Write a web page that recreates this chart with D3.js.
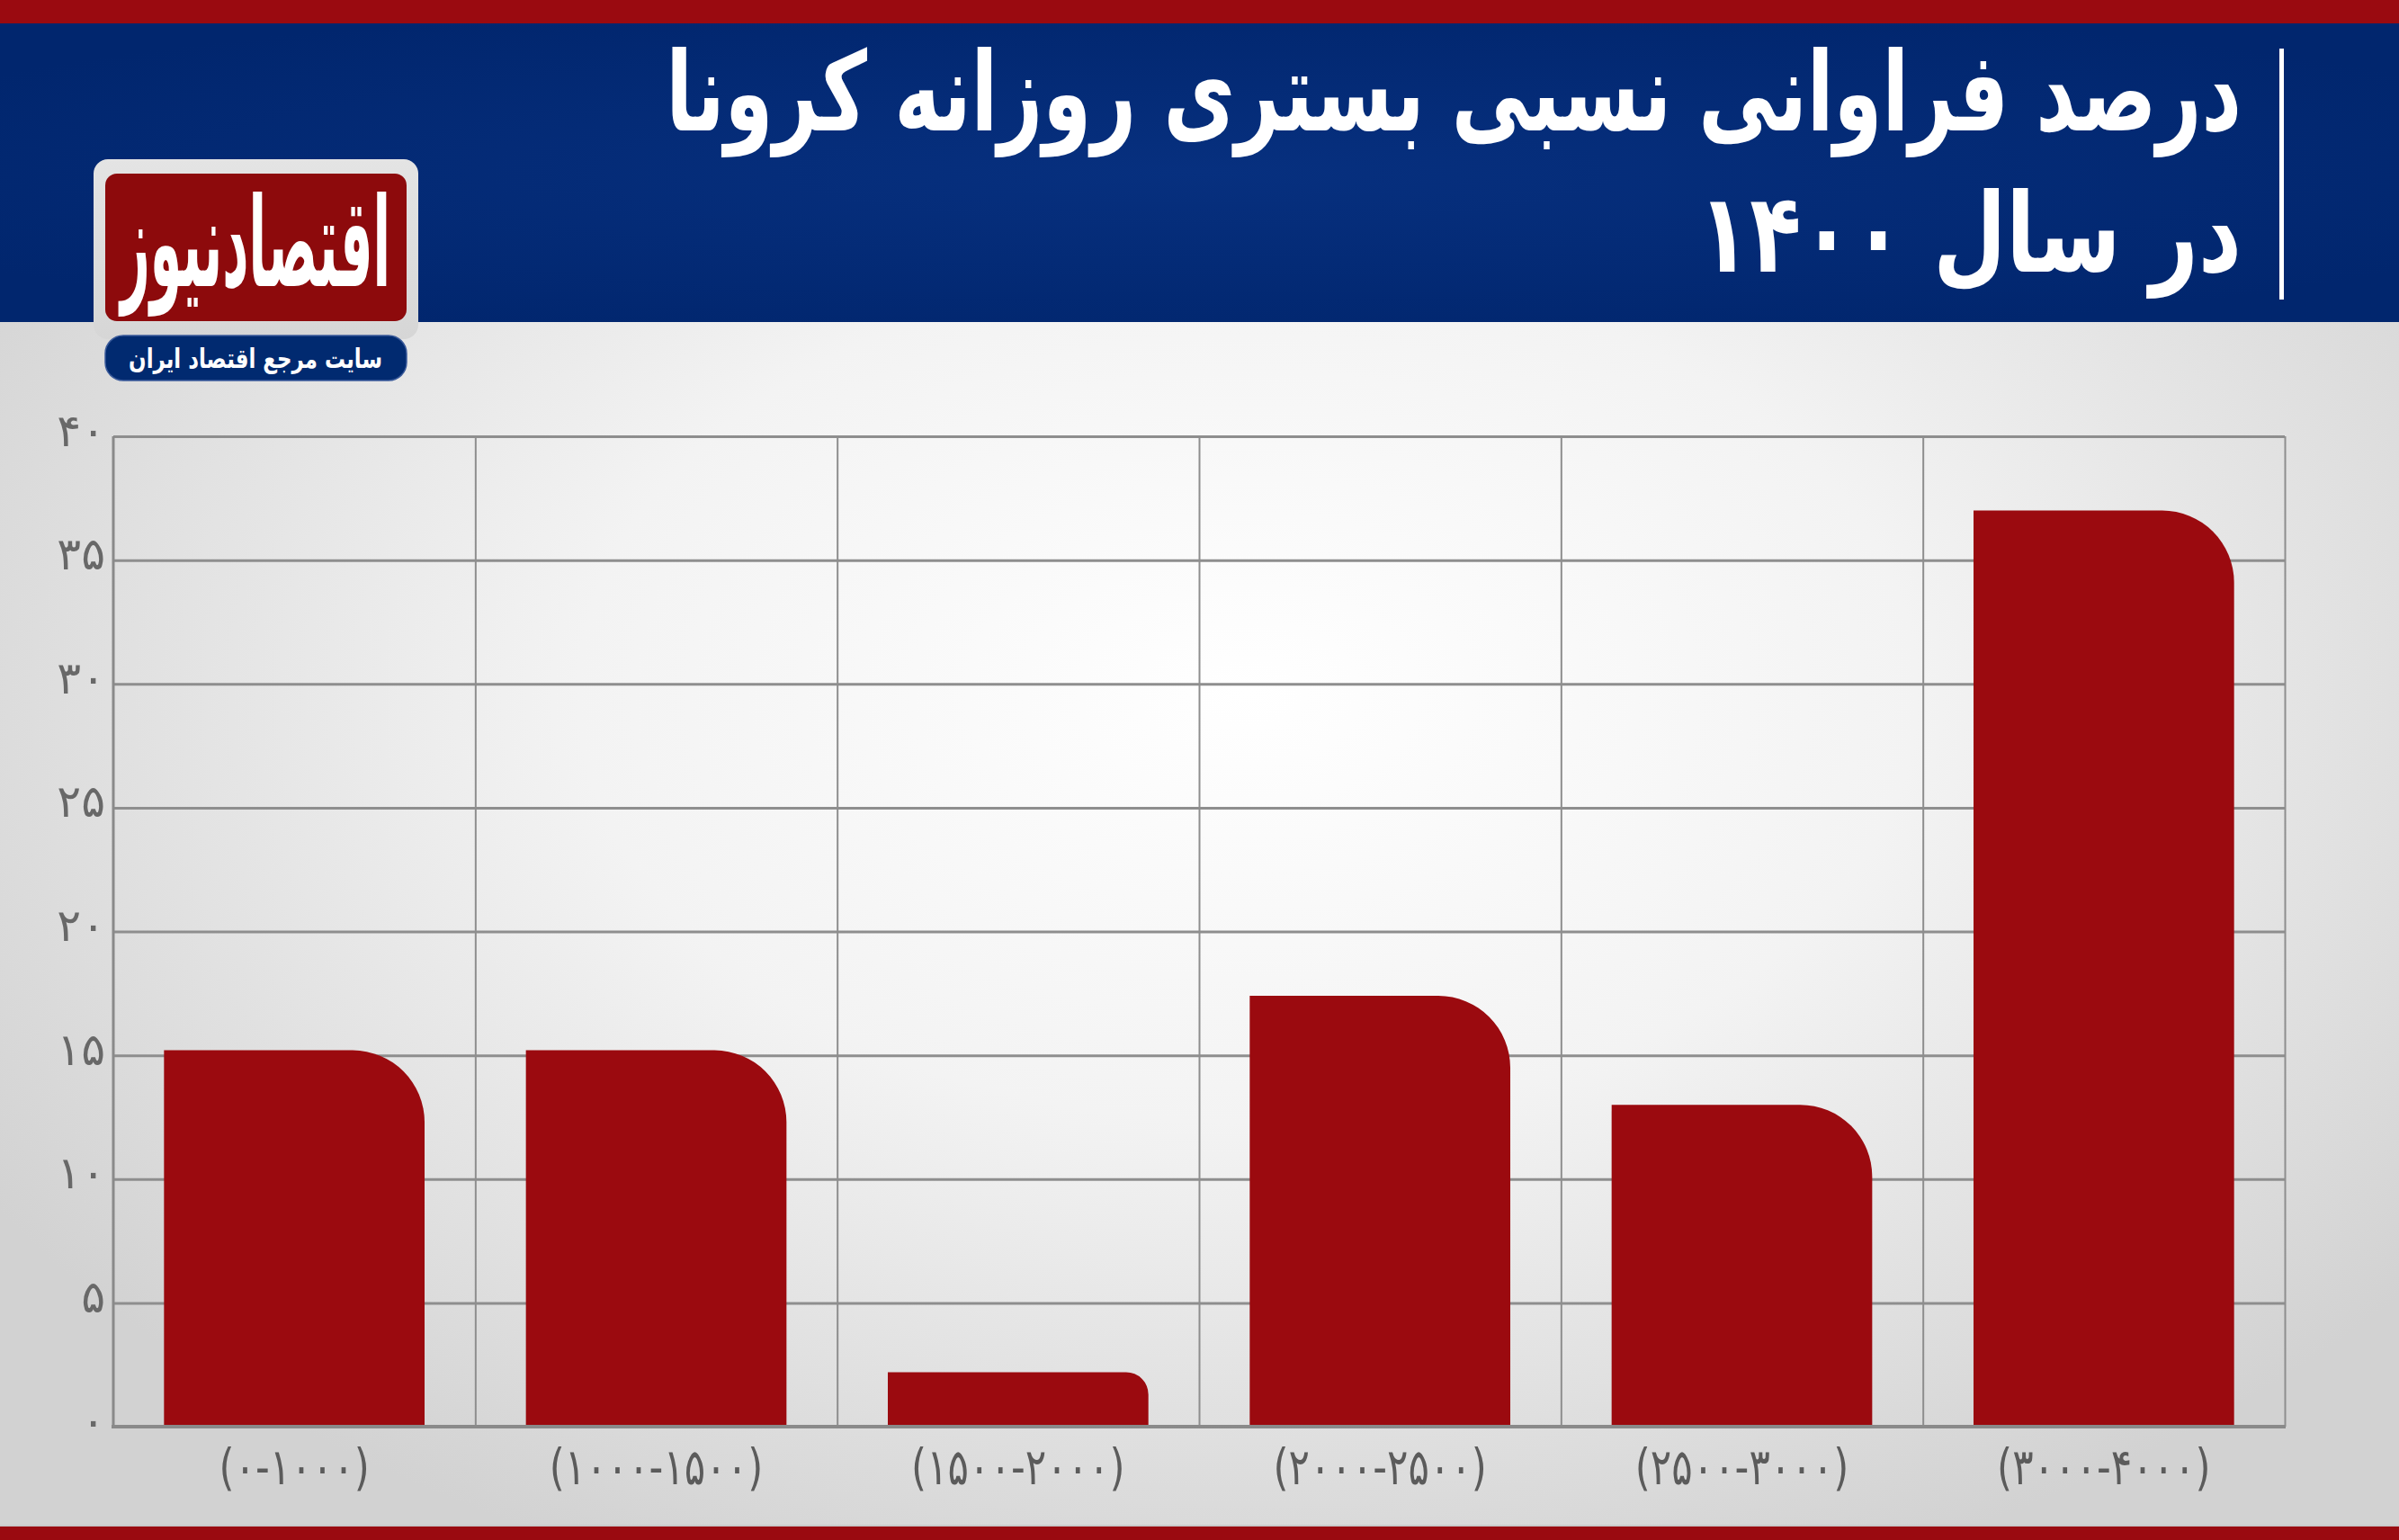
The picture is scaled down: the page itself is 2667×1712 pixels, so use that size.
<!DOCTYPE html>
<html><head><meta charset="utf-8">
<script src="https://cdn.jsdelivr.net/npm/d3@7"></script>
<style>html,body{margin:0;padding:0;background:#fff;} svg{display:block;}</style>
</head><body>
<svg id="chart" width="2667" height="1712"></svg>
<script>
// ---- data ----
const categories = ["(۰-۱۰۰۰)", "(۱۰۰۰-۱۵۰۰)", "(۱۵۰۰-۲۰۰۰)", "(۲۰۰۰-۲۵۰۰)", "(۲۵۰۰-۳۰۰۰)", "(۳۰۰۰-۴۰۰۰)"];
const values = [15.2, 15.2, 2.2, 17.4, 13.0, 37.0];
const yTicks = [0, 5, 10, 15, 20, 25, 30, 35, 40];
const titleLines = ["درصد فراوانی نسبی بستری روزانه کرونا", "در سال ۱۴۰۰"];
const logoText = "اقتصادنیوز";
const logoTagline = "سایت مرجع اقتصاد ایران";

(function () {
const toFa = v => String(v).replace(/\d/g, d => "۰۱۲۳۴۵۶۷۸۹"[+d]);

const W = 2667, H = 1712;
const FONT = "'DejaVu Sans', 'Noto Sans', sans-serif";
const svg = d3.select("#chart");
const defs = svg.append("defs");

// background gradient
const bg = defs.append("radialGradient").attr("id", "bgGrad")
  .attr("cx", "52%").attr("cy", "45%").attr("r", "62%");
bg.append("stop").attr("offset", "0%").attr("stop-color", "#ffffff");
bg.append("stop").attr("offset", "45%").attr("stop-color", "#f3f3f3");
bg.append("stop").attr("offset", "100%").attr("stop-color", "#d2d2d2");
svg.append("rect").attr("width", W).attr("height", H).attr("fill", "url(#bgGrad)");

// blue header
const bl = defs.append("radialGradient").attr("id", "blueGrad")
  .attr("cx", "50%").attr("cy", "50%").attr("r", "60%");
bl.append("stop").attr("offset", "0%").attr("stop-color", "#07307f");
bl.append("stop").attr("offset", "100%").attr("stop-color", "#01266e");
svg.append("rect").attr("x", 0).attr("y", 26).attr("width", W).attr("height", 332).attr("fill", "url(#blueGrad)");
// red bands
svg.append("rect").attr("x", 0).attr("y", 0).attr("width", W).attr("height", 26).attr("fill", "#9a0a10");
svg.append("rect").attr("x", 0).attr("y", 1695).attr("width", W).attr("height", 2).attr("fill", "#c9c9c9");
svg.append("rect").attr("x", 0).attr("y", 1697).attr("width", W).attr("height", 15).attr("fill", "#9a0a10");

// title
svg.append("rect").attr("x", 2534).attr("y", 54).attr("width", 5).attr("height", 279).attr("fill", "#ffffff");
const titleTargets = [{w: 1752, y: 145}, {w: 604, y: 302}];
titleLines.forEach((t, i) => {
  const g = svg.append("g");
  const txt = g.append("text").text(t)
    .attr("font-family", FONT).attr("font-weight", "bold").attr("font-size", 122)
    .attr("fill", "#ffffff").attr("text-anchor", "end");
  const len = txt.node().getComputedTextLength();
  const sx = titleTargets[i].w / len;
  g.attr("transform", `translate(2492,${titleTargets[i].y}) scale(${sx},1)`);
});

// logo
const lg = defs.append("linearGradient").attr("id", "logoGray").attr("x1", 0).attr("y1", 0).attr("x2", 0).attr("y2", 1);
lg.append("stop").attr("offset", "0%").attr("stop-color", "#e4e4e4");
lg.append("stop").attr("offset", "100%").attr("stop-color", "#d6d6d6");
svg.append("rect").attr("x", 104).attr("y", 177).attr("width", 361).attr("height", 200).attr("rx", 16).attr("fill", "url(#logoGray)");
svg.append("rect").attr("x", 117).attr("y", 193).attr("width", 335).attr("height", 164).attr("rx", 13).attr("fill", "#8d0a0c");
{
  const g = svg.append("g");
  const txt = g.append("text").text(logoText)
    .attr("font-family", FONT).attr("font-weight", "bold").attr("font-size", 120)
    .attr("fill", "#ffffff").attr("text-anchor", "middle");
  const len = txt.node().getComputedTextLength();
  g.attr("transform", `translate(284,318) scale(${300 / len},1.15)`);
}
svg.append("rect").attr("x", 117).attr("y", 373).attr("width", 335).attr("height", 50).attr("rx", 20)
  .attr("fill", "#012a70").attr("stroke", "#3a5a9a").attr("stroke-width", 1.5);
{
  const g = svg.append("g");
  const txt = g.append("text").text(logoTagline)
    .attr("font-family", FONT).attr("font-weight", "bold").attr("font-size", 30)
    .attr("fill", "#ffffff").attr("text-anchor", "middle");
  const len = txt.node().getComputedTextLength();
  g.attr("transform", `translate(284,409) scale(${282 / len},1)`);
}

// ---- chart ----
const pL = 126, pR = 2540, pT = 485, pB = 1586;
const x = d3.scaleBand().domain(categories).range([pL, pR]).paddingInner(0.28).paddingOuter(0.14);
const y = d3.scaleLinear().domain([0, 40]).range([pB, pT]);
const xb = d3.scaleLinear().domain([0, categories.length]).range([pL, pR]);

const grid = svg.append("g");
grid.append("g").attr("transform", `translate(${pL},0)`)
  .call(d3.axisLeft(y).tickValues(yTicks).tickSize(-(pR - pL)).tickFormat(""))
  .call(g => g.select(".domain").remove())
  .call(g => g.selectAll("line").attr("stroke", "#8e8e8e").attr("stroke-width", 3));
grid.append("g").attr("transform", `translate(0,${pT})`)
  .call(d3.axisTop(xb).tickValues(d3.range(1, categories.length + 1)).tickSize(-(pB - pT)).tickFormat(""))
  .call(g => g.select(".domain").remove())
  .call(g => g.selectAll("line").attr("stroke", "#8e8e8e").attr("stroke-width", 2));

// bars
const barPath = (d, i) => {
  const x0 = x(categories[i]), w = x.bandwidth();
  const yt = y(d), h = pB - yt;
  const r = Math.min(80, h * 0.41);
  return `M${x0},${pB}L${x0},${yt}L${x0 + w - r},${yt}A${r},${r} 0 0 1 ${x0 + w},${yt + r}L${x0 + w},${pB}Z`;
};
svg.append("g").selectAll("path").data(values).join("path")
  .attr("d", barPath).attr("fill", "#9b0a0f");

// axes lines
svg.append("line").attr("x1", pL).attr("x2", pL).attr("y1", pT).attr("y2", pB)
  .attr("stroke", "#8a8a8a").attr("stroke-width", 3);
svg.append("line").attr("x1", pL - 2).attr("x2", pR + 1).attr("y1", pB).attr("y2", pB)
  .attr("stroke", "#8a8a8a").attr("stroke-width", 4);

// y labels
svg.append("g").attr("transform", `translate(${pL},0)`)
  .call(d3.axisLeft(y).tickValues(yTicks).tickSize(0).tickPadding(9).tickFormat(toFa))
  .call(g => g.select(".domain").remove())
  .call(g => g.selectAll("text").attr("font-family", FONT).attr("font-size", 50)
    .attr("fill", "#686868").attr("dy", "0.2em"));

// x labels
svg.append("g").attr("transform", `translate(0,${pB})`)
  .call(d3.axisBottom(x).tickSize(0).tickPadding(24))
  .call(g => g.select(".domain").remove())
  .call(g => g.selectAll("text").attr("font-family", FONT).attr("font-size", 56)
    .attr("fill", "#5b5b5b").attr("transform", "scale(0.78,1)"));
})();
</script>
</body></html>
